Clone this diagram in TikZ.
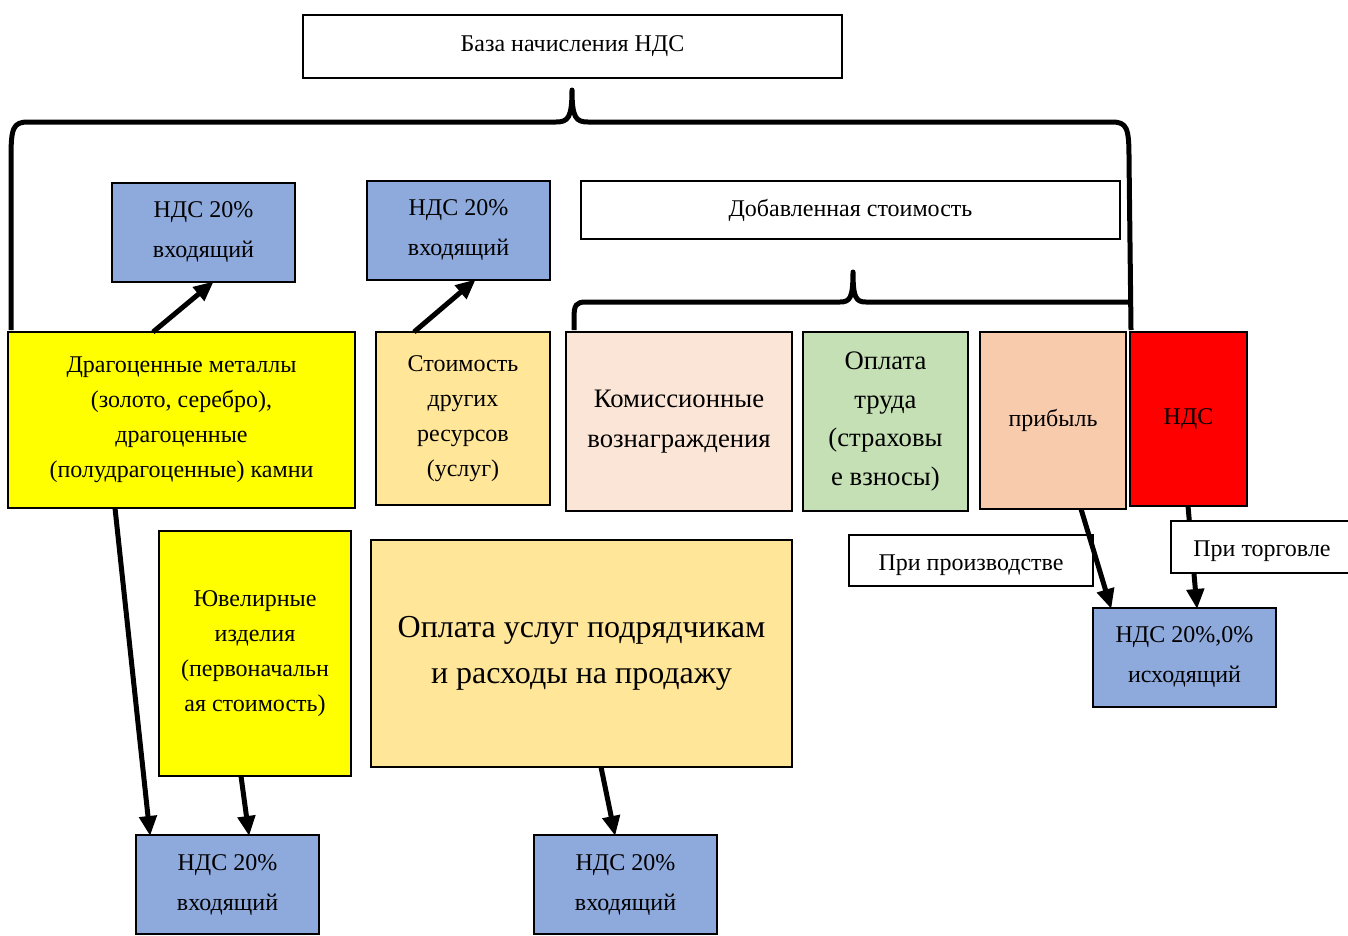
\documentclass[tikz,border=0pt]{standalone}
\usepackage{fontspec}
\setmainfont{Liberation Serif}
\usetikzlibrary{arrows.meta}
\newcommand\fsz[2]{\fontsize{#1pt}{#2pt}\selectfont}
\definecolor{ndsblue}{HTML}{8EA9DB}
\definecolor{ylw}{HTML}{FFFF00}
\definecolor{gold}{HTML}{FFE699}
\definecolor{peachlt}{HTML}{FBE5D6}
\definecolor{greenlt}{HTML}{C5E0B4}
\definecolor{orangelt}{HTML}{F8CBAD}
\definecolor{redv}{HTML}{FF0000}
\tikzset{
  box/.style={draw=black, line width=2.5pt, align=center, inner sep=0pt, outer sep=0pt, anchor=north west, font=\fsz{24}{35}},
  thinbox/.style={box, line width=2pt, fill=white},
  ndsbox/.style={box, fill=ndsblue, minimum width=183pt, minimum height=99pt, font=\fsz{24}{40}},
  brace/.style={line width=5pt, line join=round},
  arr/.style={line width=5pt, -{Triangle[length=20pt,width=17pt]}, shorten >=-1pt}
}
\begin{document}
\begin{tikzpicture}[x=1pt,y=-1pt]
\useasboundingbox[fill=white] (0,0) rectangle (1348,935);

% top
\node[thinbox, minimum width=539pt, minimum height=63pt] (base) at (303,15) {База начисления НДС};
\node[thinbox, minimum width=539pt, minimum height=58pt] (added) at (581,181) {Добавленная стоимость};

% incoming VAT boxes
\node[ndsbox] (n1) at (112,183) {НДС 20\%\\входящий};
\node[ndsbox] (n2) at (367,181) {НДС 20\%\\входящий};

% middle row
\node[box, fill=ylw, minimum width=347pt, minimum height=176pt] (metals) at (8,332)
  {Драгоценные металлы\\(золото, серебро),\\драгоценные\\(полудрагоценные) камни};
\node[box, fill=gold, minimum width=174pt, minimum height=173pt] (other) at (376,332)
  {Стоимость\\других\\ресурсов\\(услуг)};
\node[box, fill=peachlt, minimum width=226pt, minimum height=179pt, font=\fsz{26.7}{40}] (comm) at (566,332)
  {Комиссионные\\вознаграждения};
\node[box, fill=greenlt, minimum width=165pt, minimum height=179pt, font=\fsz{26.7}{38.5}] (labor) at (803,332)
  {Оплата\\труда\\(страховы\\е взносы)};
\node[box, fill=orangelt, minimum width=146pt, minimum height=177pt] (profit) at (980,332) {прибыль};
\node[box, fill=redv, minimum width=117pt, minimum height=174pt] (vat) at (1130,332) {НДС};

% lower part
\node[thinbox, minimum width=244pt, minimum height=51pt, text height=24pt, text depth=5pt] (prod) at (849,535) {При производстве};
\node[ndsbox] (out) at (1093,608) {НДС 20\%,0\%\\исходящий};
\node[box, fill=ylw, minimum width=192pt, minimum height=245pt] (jewel) at (159,531)
  {Ювелирные\\изделия\\(первоначальн\\ая стоимость)};
\node[box, fill=gold, minimum width=421pt, minimum height=227pt, font=\fsz{32}{46}] (serv) at (371,540)
  {Оплата услуг подрядчикам\\и расходы на продажу};
\node[ndsbox] (b1) at (136,835) {НДС 20\%\\входящий};
\node[ndsbox] (b2) at (534,835) {НДС 20\%\\входящий};

% braces
\draw[brace] (11,330) -- (11,158) .. controls (11,128) and (13,122) .. (28,122)
  -- (556,122) .. controls (568,122) and (572,118) .. (572,90)
  .. controls (572,118) and (576,122) .. (588,122)
  -- (1112,122) .. controls (1127,122) and (1129,128) .. (1129,158) -- (1131,330);
\draw[brace] (574,330) -- (574,318) .. controls (574,305) and (576,302) .. (586,302)
  -- (840,302) .. controls (850,302) and (853,298) .. (853,272)
  .. controls (853,298) and (856,302) .. (866,302) -- (1129,302);

% arrows
\draw[arr] ([xshift=145pt]metals.north west) -- ([xshift=101pt]n1.south west);
\draw[arr] ([xshift=38pt]other.north west) -- ([xshift=108pt]n2.south west);
\draw[arr] ([xshift=107pt]metals.south west) -- ([xshift=14pt]b1.north west);
\draw[arr] ([xshift=82pt]jewel.south west) -- ([xshift=113pt]b1.north west);
\draw[arr] ([xshift=230pt]serv.south west) -- ([xshift=81pt]b2.north west);
\draw[arr] ([xshift=101pt]profit.south west) -- ([xshift=18pt]out.north west);
\draw[arr] ([xshift=58pt]vat.south west) -- ([xshift=104pt]out.north west);

\node[thinbox, minimum width=182pt, minimum height=52pt, text height=24pt, text depth=5pt] (trade) at (1171,521) {При торговле};
\end{tikzpicture}
\end{document}
